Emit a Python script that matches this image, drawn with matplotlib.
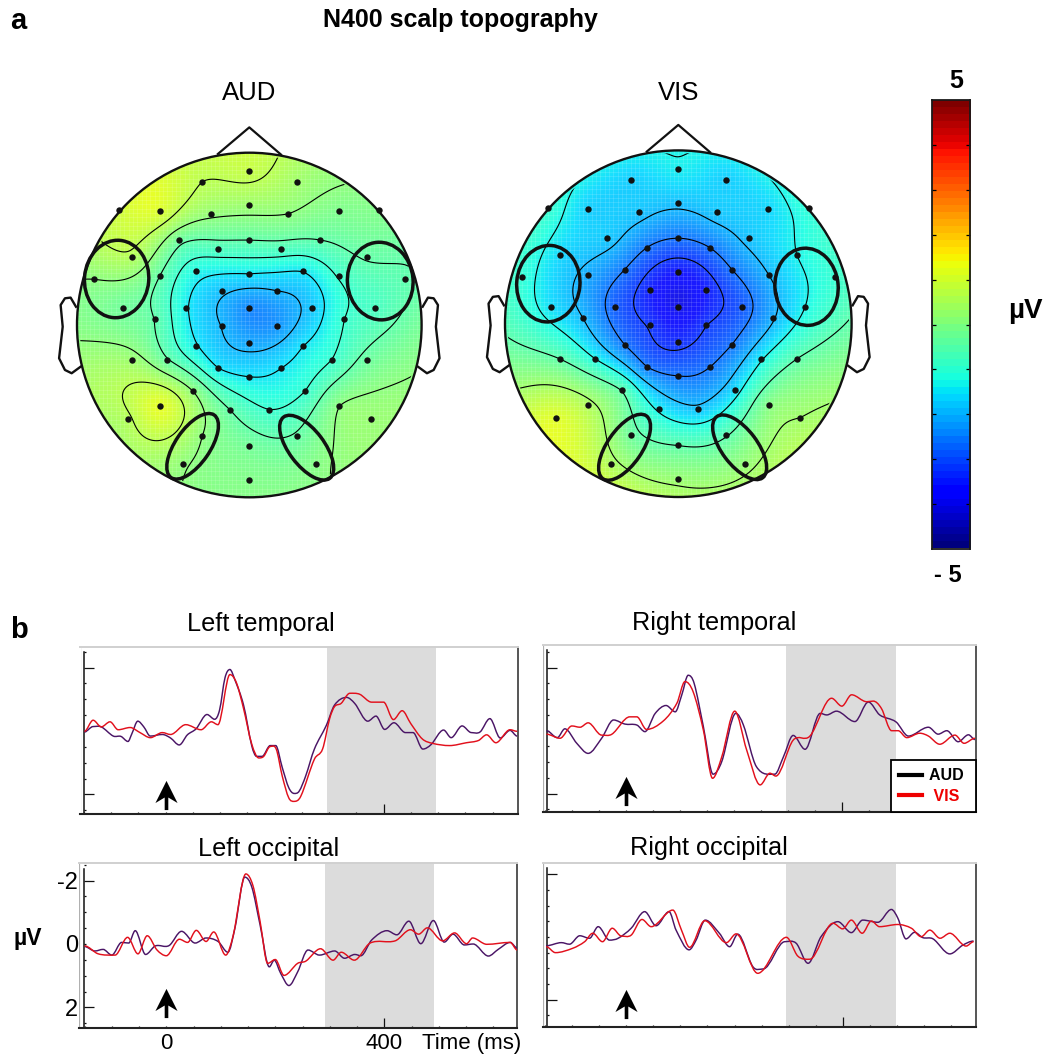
import numpy as np
import matplotlib
matplotlib.use("Agg")
import matplotlib.pyplot as plt
from matplotlib.lines import Line2D
from matplotlib.patches import Circle, Ellipse, PathPatch
from matplotlib.path import Path
from matplotlib.ticker import MultipleLocator

plt.rcParams['font.family'] = ['Liberation Sans', 'DejaVu Sans']

# ---------- data: scalp topography ----------
ELECTRODE_X = [0, -.275, .275, -.754, -.520, -.225, 0, .225, .520, .754, -.409, 0, .409, -.183, .183,
               -.683, .683, -.902, -.521, -.310, 0, .310, .521, .902, -.161, .161, -.732, -.366, 0, .366,
               .732, -.549, .549, -.161, .161, 0, -.310, .310, -.683, -.480, .480, .683, -.183, .183, 0,
               -.325, .325, -.521, .521, -.112, .112, -.705, .705, -.275, .275, 0, -.387, .387, 0]
ELECTRODE_Y = [.894, .832, .832, .667, .660, .644, .696, .644, .660, .667, .493, .493, .493, .439, .439,
               .395, .395, .267, .282, .311, .296, .311, .282, .267, .197, .197, .099, .099, .099, .099,
               .099, .033, .033, -.006, -.006, -.104, -.122, -.122, -.203, -.203, -.203, -.203, -.250, -.250, -.300,
               -.385, -.385, -.468, -.468, -.491, -.491, -.545, -.545, -.642, -.642, -.702, -.808, -.808, -.899]
AUD_UV = [.85, .7, .35, 1.0, 1.15, .2, .3, .1, -.1, -.05, -.35, -.5, -.5, -.75, -.75,
          .6, -.45, .1, -.5, -1.3, -1.5, -1.5, -.95, -.55, -1.9, -2, -.3, -1.45, -2.5, -1.8,
          -.8, -.5, -1, -2, -2.35, -2.15, -1.45, -1.5, .3, -.45, -1, -.35, -1.5, -1.5, -1.5,
          .1, -1, 1.3, .1, -.5, -1, .6, .25, .1, -.45, -.25, .15, 0, -.05]
VIS_UV = [-1.4, -1.75, -1.75, -1.0, -1.75, -1.85, -1.9, -1.8, -1.65, -1.1, -1.8, -2.7, -1.85, -2.7, -2.7,
          -1.65, -1.35, -1.1, -2.15, -2.7, -3.7, -2.7, -2.0, -1.0, -3.6, -3.6, -1.6, -2.95, -4.1, -3.0,
          -1.35, -2.0, -2.05, -3.35, -3.3, -3.45, -2.7, -2.7, -.55, -1.35, -1.4, -.55, -2.7, -2.7, -2.7,
          -.55, -1.6, .5, 0, -1.45, -1.9, 1.2, .35, -.35, -.6, -.55, .5, .2, .25]
# scalp edge, every 22.5 degrees counter-clockwise from the right ear
RIM_ANGLE = [0, 22.5, 45, 67.5, 90, 112.5, 135, 157.5, 180, 202.5, 225, 247.5, 270, 292.5, 315, 337.5]
AUD_RIM = [-.15, -.45, 0, .35, .9, .9, 1.1, .4, 0, .5, .4, .1, 0, .05, .25, .2]
VIS_RIM = [-.4, -.8, -1.0, -1.3, -1.3, -1.3, -1.0, -.85, -.6, .4, 1.3, 1.0, .6, .55, .7, .3]
AUD_LEVELS = [-2.0, -1.5, -1.0, -0.5, 0.1, 0.7]
VIS_LEVELS = [-3.3, -2.7, -2.0, -1.35, -0.55, 0.35]
NOSE_X = [-.182, 0, .184]
NOSE_Y = [.993, 1.147, .989]
EAR_X = [-1.006, -1.037, -1.070, -1.095, -1.083, -1.104, -1.070, -1.031, -.979]
EAR_Y = [.106, .159, .155, .116, -.010, -.193, -.261, -.280, -.242]
# regions of interest: x, y, width, height, angle (head radius units)
AUD_ROI = [(-.770, .267, .373, .450, -5), (.760, .255, .381, .451, 5),
           (-.329, -.704, .441, .201, 55.5), (.333, -.712, .445, .205, -53)]
VIS_ROI = [(-.750, .231, .365, .442, -5), (.740, .213, .365, .446, 5),
           (-.310, -.713, .441, .201, 55.5), (.354, -.713, .441, .205, -53)]

# ---------- data: ERP traces (ms, uV, negative up) ----------
LT_AUD_T = [-149, -133, -118, -96, -82, -69, -62, -51, -40, -28, -6, 9, 25, 40, 56, 76, 90, 99, 109, 118, 127, 143, 158, 167, 177, 192, 202, 214, 226, 236, 245, 257, 273, 295, 310, 332, 347, 371, 386, 402, 419, 440, 454, 472, 487, 510, 524, 544, 561, 577, 595, 614, 632, 645]
LT_AUD_V = [.03, -.14, -.13, .16, .17, .33, .09, -.31, -.13, .16, .11, .22, .44, .12, -.07, -.52, -.37, -.66, -1.68, -1.94, -1.62, -.82, .46, .80, .80, .46, .46, 1.15, 1.79, 1.97, 1.90, 1.42, .57, -.18, -.82, -1.06, -.87, -.31, -.47, -.05, -.26, .05, .05, .57, .43, -.03, .21, -.16, .05, .03, -.39, .22, -.02, .16]
LT_VIS_T = [-149, -133, -118, -102, -87, -65, -47, -28, -6, 9, 37, 65, 84, 96, 118, 130, 143, 158, 171, 180, 192, 203, 214, 226, 236, 248, 273, 288, 301, 310, 322, 338, 356, 378, 400, 418, 434, 450, 471, 490, 521, 552, 574, 589, 606, 632, 645]
LT_VIS_V = [.01, -.34, -.13, -.29, -.04, -.11, .05, .21, .05, .11, -.20, -.04, -.29, -.20, -1.78, -1.52, -.71, .41, .85, .80, .49, .57, 1.42, 2.11, 2.22, 2.06, .89, .57, -.39, -.77, -.87, -1.19, -1.16, -.91, -.91, -.36, -.64, -.23, .25, .39, .46, .37, .30, .12, .37, -.04, .01]
RT_AUD_T = [-147, -127, -113, -91, -70, -45, -23, -2, 20, 35, 54, 74, 91, 103, 115, 126, 143, 161, 177, 203, 217, 241, 275, 291, 309, 331, 359, 371, 389, 423, 448, 469, 499, 522, 559, 577, 593, 614, 633, 645]
RT_AUD_V = [0, .22, -.06, .40, .72, .24, -.34, -.21, -.18, .03, -.55, -.80, -.60, -1.13, -1.76, -1.50, -.13, 1.38, .98, -.55, -.18, 1.14, 1.38, .83, .15, .59, -.55, -.50, -.62, -.29, -.91, -.50, -.28, .17, -.11, .11, 0, .35, .13, .28]
RT_VIS_T = [-147, -122, -100, -85, -70, -45, -26, 7, 20, 38, 69, 94, 109, 124, 143, 160, 177, 201, 223, 248, 266, 277, 309, 340, 380, 399, 417, 445, 457, 472, 491, 503, 519, 543, 559, 580, 608, 625, 645]
RT_VIS_V = [.11, .24, -.15, -.11, -.25, .14, .11, -.44, -.44, -.04, -.31, -.87, -1.56, -1.24, -.02, 1.51, .83, -.62, .61, 1.72, 1.35, 1.44, .30, .17, -1.03, -.78, -1.14, -.92, -.94, -.71, 0, 0, .22, .08, .17, .43, .14, .40, .24]
LO_AUD_T = [-150, -131, -116, -100, -82, -69, -57, -38, -20, 5, 28, 53, 73, 95, 113, 126, 144, 157, 172, 189, 198, 210, 225, 241, 260, 281, 309, 327, 346, 357, 377, 405, 423, 445, 467, 490, 510, 526, 547, 563, 591, 609, 631, 644]
LO_AUD_V = [.08, .22, .17, .35, -.05, -.03, -.42, .33, .06, .05, -.40, -.03, -.19, -.08, .26, -.51, -2.11, -1.79, -.61, .72, .51, .93, 1.31, .88, .19, .35, .22, .45, .33, .37, -.13, -.42, -.29, -.72, -.01, -.74, -.06, -.31, .03, 0, .38, .17, -.05, .13]
LO_VIS_T = [-150, -125, -94, -71, -52, -35, -17, 0, 24, 39, 55, 73, 87, 109, 123, 146, 159, 172, 186, 200, 216, 241, 256, 283, 306, 321, 345, 374, 420, 448, 463, 479, 507, 529, 551, 562, 588, 631, 644]
LO_VIS_V = [.06, .31, .35, -.21, .31, -.26, .19, .37, -.15, -.05, -.43, -.08, -.38, .35, -.29, -2.21, -1.84, -.72, .61, .49, .99, .61, .54, .15, .51, .26, .51, -.03, -.10, -.45, -.31, -.51, -.10, -.35, -.01, -.19, .01, -.05, .19]
RO_AUD_T = [-148, -120, -105, -86, -68, -52, -31, -15, 9, 34, 55, 79, 92, 116, 129, 146, 172, 191, 206, 234, 253, 293, 314, 336, 360, 391, 416, 437, 465, 490, 502, 517, 533, 548, 567, 598, 622, 642]
RO_AUD_V = [.28, .18, .23, -.04, .04, -.33, .10, .04, -.28, -.81, -.36, -.81, -.22, .41, .10, -.54, -.12, .31, -.09, .95, 1.02, .15, .20, .84, -.01, -.49, -.14, -.54, -.47, -.88, -.60, .06, -.15, .02, .06, .54, .26, .13]
RO_VIS_T = [-148, -131, -99, -77, -62, -44, -26, -9, 9, 29, 46, 86, 102, 117, 145, 185, 203, 243, 296, 317, 339, 382, 400, 416, 436, 453, 468, 502, 527, 545, 561, 580, 598, 628, 642]
RO_VIS_V = [.31, .50, .36, .15, -.12, .15, -.28, -.03, -.06, -.56, -.33, -.86, -.22, .33, -.52, .18, -.10, 1.16, .01, .61, .71, -.44, -.26, -.54, -.12, -.51, -.33, -.40, -.28, -.01, -.22, .04, -.12, .29, .15]
Y_TICKS = [-2, 0, 2]
Y_TICK_LABELS = ['-2', '0', '2']
X_TICKS = [0, 400]
X_TICK_LABELS = ['0', '400']
COLORBAR_TICKS = [-4, -3, -2, -1, 0, 1, 2, 3, 4]

# ---------- layout helpers ----------
W, H = 1045, 1055
fig = plt.figure(figsize=(W / 100, H / 100), dpi=100, facecolor='white')
ARROW_MARKER = Path([(0, 14.5), (11, -7.5), (1.8, -2), (1.8, -14.5), (-1.8, -14.5), (-1.8, -2), (-11, -7.5), (0, 14.5)],
                    closed=True)


def axes_px(left, top, right, bottom, **kw):
    return fig.add_axes([left / W, 1 - bottom / H, (right - left) / W, (bottom - top) / H], **kw)


def fig_text(x, y, s, **kw):
    kw.setdefault('ha', 'center')
    kw.setdefault('va', 'center')
    return fig.text(x / W, 1 - y / H, s, **kw)


def thin_plate(xs, ys, values, gx, gy):
    xs, ys, values = map(np.asarray, (xs, ys, values))
    def kernel(d2):
        return np.where(d2 > 0, 0.5 * d2 * np.log(np.maximum(d2, 1e-12)), 0.0)
    n = len(xs)
    K = kernel((xs[:, None] - xs[None, :]) ** 2 + (ys[:, None] - ys[None, :]) ** 2)
    P = np.column_stack([np.ones(n), xs, ys])
    A = np.block([[K + 2e-3 * np.eye(n), P], [P.T, np.zeros((3, 3))]])
    coef = np.linalg.solve(A, np.concatenate([values, np.zeros(3)]))
    d2 = (gx[..., None] - xs) ** 2 + (gy[..., None] - ys) ** 2
    return kernel(d2) @ coef[:n] + coef[n] + coef[n + 1] * gx + coef[n + 2] * gy


def draw_head(cx, cy, r, title, values, rim, levels, rois):
    half = 1.2
    ax = axes_px(cx - half * r, cy - half * r, cx + half * r, cy + half * r)
    ax.set_xlim(-half, half)
    ax.set_ylim(-half, half)
    ax.set_aspect('equal')
    ax.axis('off')
    ang = np.deg2rad(RIM_ANGLE)
    xs = np.concatenate([ELECTRODE_X, 1.04 * np.cos(ang)])
    ys = np.concatenate([ELECTRODE_Y, 1.04 * np.sin(ang)])
    vals = np.concatenate([values, rim])
    g = np.linspace(-1.02, 1.02, 320)
    gx, gy = np.meshgrid(g, g)
    field = thin_plate(xs, ys, vals, gx, gy)
    clip = Circle((0, 0), 1, transform=ax.transData)
    im = ax.imshow(field, extent=(-1.02, 1.02, -1.02, 1.02), origin='lower', cmap='jet',
                   vmin=-5, vmax=5, interpolation='bilinear', alpha=0.9, zorder=1)
    im.set_clip_path(clip)
    grid = np.arange(-1, 1.001, 0.025)
    for coll in (ax.vlines(grid, -1, 1, color='white', lw=0.5, alpha=0.18, zorder=2),
                 ax.hlines(grid, -1, 1, color='white', lw=0.5, alpha=0.18, zorder=2)):
        coll.set_clip_path(clip)
    cs = ax.contour(gx, gy, field, levels=levels, colors='black', linewidths=0.8,
                    linestyles='solid', zorder=3)
    cs.set_clip_path(Circle((0, 0), .985, transform=ax.transData))
    ax.plot(ELECTRODE_X, ELECTRODE_Y, 'o', color='#111111', ms=4.6, mew=0, zorder=4)
    ax.add_patch(Circle((0, 0), 1, fc='none', ec='#111111', lw=1.7, zorder=5))
    ax.plot(NOSE_X, NOSE_Y, color='#111111', lw=1.6, zorder=5)
    ax.plot(EAR_X, EAR_Y, color='#111111', lw=1.7, zorder=5)
    ax.plot(-np.asarray(EAR_X), EAR_Y, color='#111111', lw=1.7, zorder=5)
    for (ex, ey, w, h, a) in rois:
        ax.add_patch(Ellipse((ex, ey), w, h, angle=a, fc='none', ec='#111111', lw=2.5, zorder=6))
    ax.set_title(title, fontsize=18.5, y=1 - (half * r - (cy - 93)) / (2 * half * r), va='center', pad=0)
    return ax


def smooth_path(t, v):
    t, v = np.asarray(t, float), np.asarray(v, float)
    m = np.zeros_like(v)
    for i in range(1, len(t) - 1):
        if (v[i] - v[i - 1]) * (v[i + 1] - v[i]) > 0:
            m[i] = (v[i + 1] - v[i - 1]) / (t[i + 1] - t[i - 1])
    verts, codes = [(t[0], v[0])], [Path.MOVETO]
    for i in range(len(t) - 1):
        d = (t[i + 1] - t[i]) / 3
        verts += [(t[i] + d, v[i] + m[i] * d), (t[i + 1] - d, v[i + 1] - m[i + 1] * d), (t[i + 1], v[i + 1])]
        codes += [Path.CURVE4] * 3
    return Path(verts, codes)


def draw_erp(box, x0, x_scale, y0, y_scale, axis_px, axis_top, band, title, title_xy, aud, vis, arrow,
             labels=False, legend=False):
    left, top, right, bottom = box
    ax = axes_px(left, top, right, bottom)
    ax.set_xlim((left - x0) / x_scale, (right - x0) / x_scale)
    ax.set_ylim((bottom - y0) / y_scale, (top - y0) / y_scale)
    ax.axvspan(band[0], band[1], color='#dcdcdc', lw=0, zorder=1)
    tax = (axis_px - x0) / x_scale
    ax.spines['left'].set_position(('data', tax))
    ax.spines['left'].set_bounds((bottom - y0) / y_scale, (axis_top - y0) / y_scale)
    ax.spines['left'].set_color('#111111')
    ax.spines['left'].set_linewidth(1.1)
    ax.spines['bottom'].set_linewidth(1.5)
    ax.spines['bottom'].set_color('#222222')
    ax.spines['top'].set_color('#d0d0d0')
    ax.spines['top'].set_linewidth(1.4)
    ax.spines['right'].set_color('#555555')
    ax.spines['right'].set_linewidth(1.4)
    ax.axvline(ax.get_xlim()[0], color='#b0b0b0', lw=1.6, zorder=2)
    ax.set_xticks(X_TICKS)
    ax.set_yticks(Y_TICKS)
    ax.xaxis.set_minor_locator(MultipleLocator(50))
    ax.yaxis.set_minor_locator(MultipleLocator(0.5))
    ax.tick_params(which='major', direction='in', length=7, width=0.9, color='#111111',
                   labelsize=16, pad=4, labelleft=labels, labelbottom=labels)
    ax.tick_params(axis='y', which='major', labelsize=17)
    ax.tick_params(which='minor', direction='in', length=1.6, width=0.9, color='#111111')
    ax.xaxis.get_major_ticks()[0].tick1line.set_markersize(1.6)
    ax.yaxis.get_major_ticks()[1].tick1line.set_markersize(1.6)
    if labels:
        ax.set_xticklabels(X_TICK_LABELS)
        ax.set_yticklabels(Y_TICK_LABELS)
    ax.add_patch(PathPatch(smooth_path(*aud), fc='none', ec='#4a1566', lw=1.05, zorder=3))
    ax.add_patch(PathPatch(smooth_path(*vis), fc='none', ec='#e2101c', lw=1.05, zorder=4))
    ax.plot([0], [arrow], marker=ARROW_MARKER, ms=21, color='black', mew=0, ls='none', zorder=5)
    ax.set_title(title, fontsize=18.2, va='center', pad=0,
                 x=(title_xy[0] - left) / (right - left), y=(bottom - title_xy[1]) / (bottom - top))
    if legend:
        handles = [Line2D([], [], color='black', lw=3), Line2D([], [], color='#ee0000', lw=3)]
        leg = ax.legend(handles, ['AUD ', ' VIS '], loc='lower right', bbox_to_anchor=(1, 0), borderaxespad=0,
                        fancybox=False, framealpha=1, edgecolor='black', labelcolor=['black', '#ee0000'],
                        prop={'weight': 'bold', 'size': 11.5}, handlelength=1.45, handletextpad=0.4,
                        labelspacing=0.35, borderpad=0.5)
        leg.get_frame().set_linewidth(1.3)
    return ax


# ---------- panel a ----------
draw_head(249.3, 325, 172.3, 'AUD', AUD_UV, AUD_RIM, AUD_LEVELS, AUD_ROI)
draw_head(678.3, 323.7, 173.3, 'VIS', VIS_UV, VIS_RIM, VIS_LEVELS, VIS_ROI)

cax = axes_px(931.5, 100.5, 970, 548.5)
cax.imshow(np.linspace(-5, 5, 64)[:, None], origin='lower', aspect='auto', cmap='jet', vmin=-5, vmax=5,
           extent=(0, 1, -5, 5), interpolation='nearest')
cax.set_xticks([])
cax.set_yticks(COLORBAR_TICKS)
cax.tick_params(axis='y', direction='in', left=True, right=True, length=2.6, width=0.9, labelleft=False)
for s in cax.spines.values():
    s.set_linewidth(1.3)
    s.set_color('#1a1a1a')

fig_text(18, 21, 'a', fontsize=21, fontweight='bold')
fig_text(460, 20, 'N400 scalp topography', fontsize=18, fontweight='bold')
fig_text(956, 81, '5', fontsize=18, fontweight='bold')
fig_text(948, 576, '- 5', fontsize=17, fontweight='bold')
fig_text(1025, 311, 'µV', fontsize=20, fontweight='bold')

# ---------- panel b ----------
draw_erp((80.5, 647, 518, 814), 165.6, .545, 731, 31.7, 84.5, 652, (296, 496), 'Left temporal', (261, 624),
         (LT_AUD_T, LT_AUD_V), (LT_VIS_T, LT_VIS_V), 2.03)
draw_erp((542.7, 645, 976, 812), 626, .541, 730.7, 31.5, 546.7, 650, (296, 499), 'Right temporal', (714, 623),
         (RT_AUD_T, RT_AUD_V), (RT_VIS_T, RT_VIS_V), 1.92, legend=True)
draw_erp((79.4, 862.8, 517, 1027.8), 166.3, .545, 944, 31.7, 83.8, 869, (292, 492), 'Left occipital', (269, 849),
         (LO_AUD_T, LO_AUD_V), (LO_VIS_T, LO_VIS_V), 1.85, labels=True)
draw_erp((542.7, 862.7, 976, 1026.7), 626.3, .541, 937, 31.3, 546.7, 868, (296, 498), 'Right occipital', (709, 848),
         (RO_AUD_T, RO_AUD_V), (RO_VIS_T, RO_VIS_V), 2.15)

fig_text(19, 630, 'b', fontsize=21, fontweight='bold')
fig_text(28, 938, 'µV', fontsize=16.5, fontweight='bold')
fig_text(472, 1043, 'Time (ms)', fontsize=16)

fig.savefig('out.png', dpi=100, facecolor='white')
